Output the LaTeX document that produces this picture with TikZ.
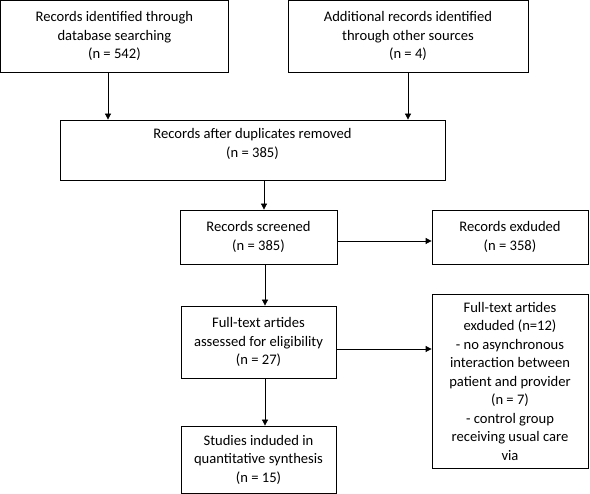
\documentclass[tikz,border=0pt]{standalone}
\usepackage{fontspec}
\setmainfont{Carlito}
\usetikzlibrary{arrows.meta}
\begin{document}
\begin{tikzpicture}[x=1pt,y=-1pt,
  box/.style={draw=black,line width=0.8pt,align=center,inner sep=0pt,
    font=\fontsize{14.6}{18.5}\selectfont},
  txt/.style={align=center,inner sep=0pt,font=\fontsize{14.6}{18.5}\selectfont},
  arr/.style={draw=black,line width=0.8pt,-{Triangle[length=6pt,width=6pt]}}]
\useasboundingbox (0,0) rectangle (590,494);
\fill[white] (0,0) rectangle (590,494);
\node[box,minimum width=228pt,minimum height=72pt] (ident) at (114.4,36.4)
  {Records identified through\\database searching\\(n = 542)};
\node[box,minimum width=240pt,minimum height=72pt] (addl) at (408,36.4)
  {Additional records identified\\through other sources\\(n = 4)};
\node[box,minimum width=385pt,minimum height=60pt] (dup) at (252.5,150) {};
\node[txt] (duptext) at (252.5,144) {Records after duplicates removed\\(n = 385)};
\node[box,minimum width=157pt,minimum height=54pt] (scr) at (258.5,237)
  {Records screened\\(n = 385)};
\node[box,minimum width=156pt,minimum height=54pt] (rex) at (510,237)
  {Records exduded\\(n = 358)};
\node[box,minimum width=155pt,minimum height=72pt] (full) at (258.5,342)
  {Full-text artides\\assessed for eligibility\\(n = 27)};
\node[box,minimum width=156pt,minimum height=174pt] (fex) at (510,381)
  {Full-text artides\\exduded (n=12)\\- no asynchronous\\interaction between\\patient and provider\\(n = 7)\\- control group\\receiving usual care\\via};
\node[box,minimum width=155pt,minimum height=67pt] (inc) at (258.5,459.5)
  {Studies induded in\\quantitative synthesis\\(n = 15)};
\draw[arr] (ident.south -| 108,0) -- (dup.north -| 108,0);
\draw[arr] (addl.south -| 408,0) -- (dup.north -| 408,0);
\draw[arr] (dup.south -| 264,0) -- (scr.north -| 264,0);
\draw[arr] (scr.south -| 265,0) -- (full.north -| 265,0);
\draw[arr] (full.south -| 265,0) -- (inc.north -| 265,0);
\draw[arr] (scr.east |- 0,241) -- (rex.west |- 0,241);
\draw[arr] (full.east |- 0,349) -- (fex.west |- 0,349);
\end{tikzpicture}
\end{document}
